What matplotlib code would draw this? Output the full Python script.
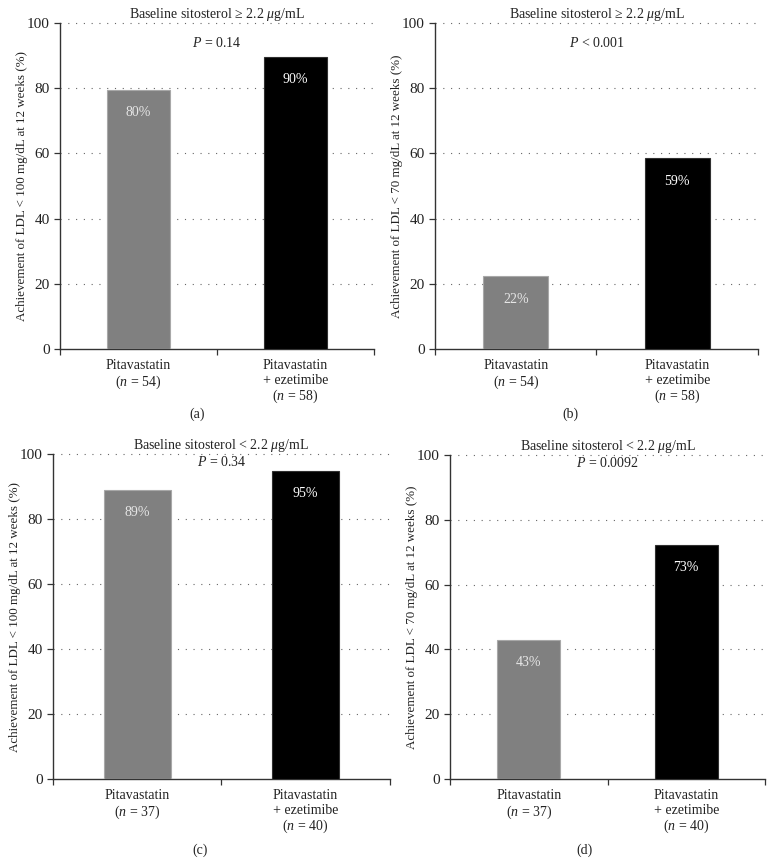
import matplotlib
matplotlib.use('Agg')
import matplotlib.pyplot as plt

plt.rcParams['font.family'] = ['Liberation Serif', 'DejaVu Serif']
plt.rcParams['mathtext.fontset'] = 'custom'
plt.rcParams['mathtext.rm'] = 'Liberation Serif'
plt.rcParams['mathtext.it'] = 'Liberation Serif:italic'

# data
panel_tags = ['(a)', '(b)', '(c)', '(d)']
titles = ['Baseline sitosterol ≥ 2.2 $\\mu$g/mL', 'Baseline sitosterol ≥ 2.2 $\\mu$g/mL',
          'Baseline sitosterol < 2.2 $\\mu$g/mL', 'Baseline sitosterol < 2.2 $\\mu$g/mL']
p_texts = ['$P$ = 0.14', '$P$ < 0.001', '$P$ = 0.34', '$P$ = 0.0092']
ylabels = ['Achievement of LDL < 100 mg/dL at 12 weeks (%)',
           'Achievement of LDL < 70 mg/dL at 12 weeks (%)',
           'Achievement of LDL < 100 mg/dL at 12 weeks (%)',
           'Achievement of LDL < 70 mg/dL at 12 weeks (%)']
n_pita = [54, 54, 37, 37]
n_combo = [58, 58, 40, 40]
pita_vals = [79.6, 22.3, 89.0, 43.0]
combo_vals = [89.7, 58.5, 94.8, 72.3]
pita_labels = ['80%', '22%', '89%', '43%']
combo_labels = ['90%', '59%', '95%', '73%']

# layout per panel: axes rect, y of P text, tag position
rects = [[0.0775, 0.596, 0.4057, 0.3773],
         [0.562, 0.596, 0.4173, 0.3773],
         [0.0685, 0.0984, 0.435, 0.376],
         [0.5814, 0.0984, 0.407, 0.375]]
p_y = [94, 94, 97.6, 97.6]
tag_pos = [(0.255, 0.52), (0.737, 0.52), (0.258, 0.016), (0.755, 0.016)]

fig = plt.figure(figsize=(7.74, 8.64), dpi=100)
fs = 10

for i in range(4):
    ax = fig.add_axes(rects[i])
    vals = [pita_vals[i], combo_vals[i]]
    ax.bar([0, 1], vals, width=0.4, color=['#808080', '#000000'],
           edgecolor=['#a8a8a8', '#303030'], linewidth=0.8, zorder=3)
    ax.set_xlim(-0.5, 1.5)
    ax.set_ylim(0, 100)
    ax.set_yticks([0, 20, 40, 60, 80, 100])
    ax.set_xticks([-0.5, 0.5, 1.5])
    ax.set_xticklabels([])
    for y in [20, 40, 60, 80, 100]:
        ax.axhline(y, color='#666666', linestyle=(0, (1, 6)), linewidth=0.8, zorder=1, clip_on=False)
    for s in ['top', 'right']:
        ax.spines[s].set_visible(False)
    for s in ['left', 'bottom']:
        ax.spines[s].set_color('#333333')
        ax.spines[s].set_linewidth(1.0)
    ax.tick_params(axis='both', colors='#333333', length=4, width=0.9, labelsize=fs + 1,
                   labelcolor='#222222')
    ax.set_ylabel(ylabels[i], fontsize=fs - 0.6, color='#222222', labelpad=-1)

    # category labels
    ax.text(0, -3.2, 'Pitavastatin\n($n$ = %d)' % n_pita[i], ha='center', va='top',
            fontsize=fs, color='#222222', linespacing=1.12)
    ax.text(1, -3.2, 'Pitavastatin\n+ ezetimibe\n($n$ = %d)' % n_combo[i], ha='center', va='top',
            fontsize=fs, color='#222222', linespacing=1.12)

    # bar value labels
    ax.text(0, pita_vals[i] - 7, pita_labels[i], ha='center', va='center',
            fontsize=fs, color='#e6e6e6', zorder=4)
    ax.text(1, combo_vals[i] - 7, combo_labels[i], ha='center', va='center',
            fontsize=fs, color='#ffffff', zorder=4)

    ax.text(0.5, p_y[i], p_texts[i], ha='center', va='center', fontsize=fs, color='#222222')
    ax.set_title(titles[i], fontsize=fs, color='#222222', pad=3)

    fig.text(tag_pos[i][0], tag_pos[i][1], panel_tags[i], ha='center', va='center',
             fontsize=fs, color='#222222')

fig.savefig('out.png', dpi=100)
